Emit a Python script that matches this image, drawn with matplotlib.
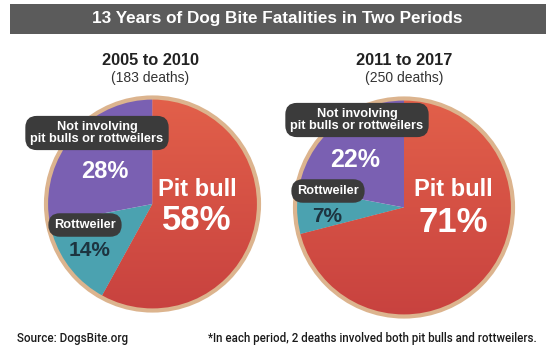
import numpy as np
import matplotlib.pyplot as plt
from matplotlib.patches import Rectangle
from matplotlib.colors import LinearSegmentedColormap

W, H = 555, 361

title = "13 Years of Dog Bite Fatalities in Two Periods"
periods = ["2005 to 2010", "2011 to 2017"]
deaths = ["(183 deaths)", "(250 deaths)"]
categories = ["Pit bull", "Rottweiler", "Not involving\npit bulls or rottweilers"]
shares = [[58, 14, 28], [71, 7, 22]]
source = "Source: DogsBite.org"
note = "*In each period, 2 deaths involved both pit bulls and rottweilers."

colors = ["#d9503f", "#4ba2b0", "#7a60b2"]
edge = "#dcb48e"

plt.rcParams['font.family'] = ['Liberation Sans', 'DejaVu Sans']

fig = plt.figure(figsize=(W / 100, H / 100), dpi=100)
ax = fig.add_axes([0, 0, 1, 1])

def Y(y):
    # pixel row (from top) -> data y
    return H - y

# title bar
ax.add_patch(Rectangle((10, Y(34)), 536, 30, color="#5b5b5b", lw=0))
ax.text(277, Y(19), title, color="white", fontsize=12.3, fontweight="bold",
        ha="center", va="center")

centers = [(152.5, 204), (404, 207.5)]
radii = [106.5, 109]
head_x = [150, 404]

layout = [
    dict(other_box=(97, 133), other_pct=(105, 171), rott_box=(85, 225), rott_pct=(90, 250),
         pit=(197, 190), pit_pct=(197, 220), other_fs=17, rott_fs=15),
    dict(other_box=(357, 120), other_pct=(355, 160), rott_box=(328, 191), rott_pct=(327, 217),
         pit=(453, 190), pit_pct=(453, 222), other_fs=18, rott_fs=15),
]

box = dict(boxstyle="round,pad=0.4,rounding_size=0.9", fc="#3b3b3b", ec="none")
rbox = dict(boxstyle="round,pad=0.45,rounding_size=0.9", fc="#3b3b3b", ec="none")
cmap = LinearSegmentedColormap.from_list("pb", ["#c8423f", "#e2604a"])

for i in range(2):
    cx, cy = centers[i]
    r = radii[i]
    wedges, _ = ax.pie(shares[i], colors=colors, startangle=90, counterclock=False,
                       center=(cx, Y(cy)), radius=r, frame=True,
                       wedgeprops=dict(lw=0))
    # gradient on the pit bull slice
    grad = np.linspace(0, 1, 256).reshape(-1, 1)
    im = ax.imshow(grad, cmap=cmap, extent=(cx - r, cx + r, Y(cy) - r, Y(cy) + r),
                   origin="lower", aspect="auto", zorder=wedges[0].get_zorder())
    im.set_clip_path(wedges[0])
    ax.add_patch(plt.Circle((cx, Y(cy)), r, fill=False, ec=edge, lw=3, zorder=3))

    ax.text(head_x[i], Y(60.5), periods[i], fontsize=11.8, fontweight="bold",
            color="#222222", ha="center", va="center")
    ax.text(head_x[i], Y(78), deaths[i], fontsize=10, color="#333333",
            ha="center", va="center")

    L = layout[i]
    ax.text(L["other_box"][0], Y(L["other_box"][1]), categories[2], fontsize=9.2,
            fontweight="bold", color="white", ha="center", va="center",
            linespacing=1.0, bbox=box, zorder=5)
    ax.text(L["other_pct"][0], Y(L["other_pct"][1]), f"{shares[i][2]}%",
            fontsize=L["other_fs"], fontweight="bold", color="white",
            ha="center", va="center", zorder=5)
    ax.text(L["rott_box"][0], Y(L["rott_box"][1]), categories[1], fontsize=9.2,
            fontweight="bold", color="white", ha="center", va="center",
            bbox=rbox, zorder=5)
    ax.text(L["rott_pct"][0], Y(L["rott_pct"][1]), f"{shares[i][1]}%",
            fontsize=L["rott_fs"], fontweight="bold", color="#1d3440",
            ha="center", va="center", zorder=5)
    ax.text(L["pit"][0], Y(L["pit"][1]), categories[0], fontsize=17,
            fontweight="bold", color="white", ha="center", va="center", zorder=5)
    ax.text(L["pit_pct"][0], Y(L["pit_pct"][1]), f"{shares[i][0]}%", fontsize=25,
            fontweight="bold", color="white", ha="center", va="center", zorder=5)

ax.set_xlim(0, W)
ax.set_ylim(0, H)
ax.set_aspect('equal')
ax.axis('off')

ax.text(17, Y(338.5), source, fontsize=8.4, family=["Roboto", "DejaVu Sans"],
        fontweight=500, color="#1a1a1a", ha="left", va="center")
ax.text(537, Y(338.5), note, fontsize=8.3, family=["Roboto", "DejaVu Sans"],
        fontweight=500, color="#1a1a1a", ha="right", va="center")

fig.savefig("out.png", dpi=100)
